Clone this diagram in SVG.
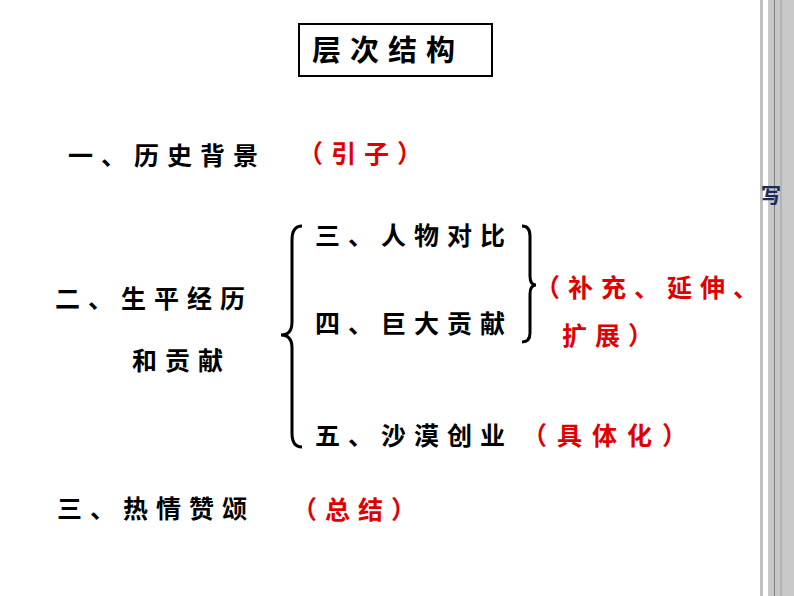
<svg xmlns="http://www.w3.org/2000/svg" width="794" height="596" viewBox="0 0 794 596">
<style>
text{font-family:"Noto Sans CJK SC","Noto Sans CJK JP",sans-serif;font-weight:700;font-size:25px;letter-spacing:8px}
.k{fill:#000}.r{fill:#e00000}
.br{fill:none;stroke:#000;stroke-width:3}
</style>
<rect width="794" height="596" fill="#fff"/>
<g id="sidebar">
<rect x="768" y="0" width="26" height="596" fill="#c8c8c8"/>
<rect x="760" y="0" width="3" height="596" fill="#c0c0c0"/>
<line x1="774.5" y1="0" x2="774.5" y2="596" stroke="#808080" stroke-width="1"/>
<rect x="780" y="0" width="2" height="596" fill="#b4b4b4"/>
<text x="761" y="203" style="fill:#1a2a5a;font-size:20px;letter-spacing:0">写</text>
</g>
<g id="title">
<rect x="299" y="24" width="193" height="52" fill="#fff" stroke="#000" stroke-width="2"/>
<text x="312" y="61" class="k" style="font-size:29px;letter-spacing:9px">层次结构</text>
</g>
<g id="n1"><text x="68" y="165" class="k">一、历史背景</text><text x="298" y="163" class="r">（引子）</text></g>
<g id="n2"><text x="55" y="308" class="k">二、生平经历</text><text x="132" y="370" class="k">和贡献</text></g>
<g id="n3"><text x="315" y="245" class="k">三、人物对比</text></g>
<g id="n4"><text x="315" y="333" class="k">四、巨大贡献</text></g>
<g id="n5"><text x="315" y="445" class="k">五、沙漠创业</text><text x="522" y="445" class="r" style="letter-spacing:10px">（具体化）</text></g>
<g id="n6"><text x="535" y="297" class="r">（补充、延伸、</text><text x="562" y="345" class="r">扩展）</text></g>
<g id="n7"><text x="57" y="518" class="k">三、热情赞颂</text><text x="292" y="519" class="r">（总结）</text></g>
<g id="connectors">
<path class="br" d="M302,226 Q292,226 292,240 L292,322 Q292,335 281,335 Q292,335 292,348 L292,433 Q292,447 302,447"/>
<path class="br" d="M522,226 Q530,226 530,236 L530,276 Q530,285 536,285 Q530,285 530,294 L530,333 Q530,342 522,342"/>
</g>
</svg>
